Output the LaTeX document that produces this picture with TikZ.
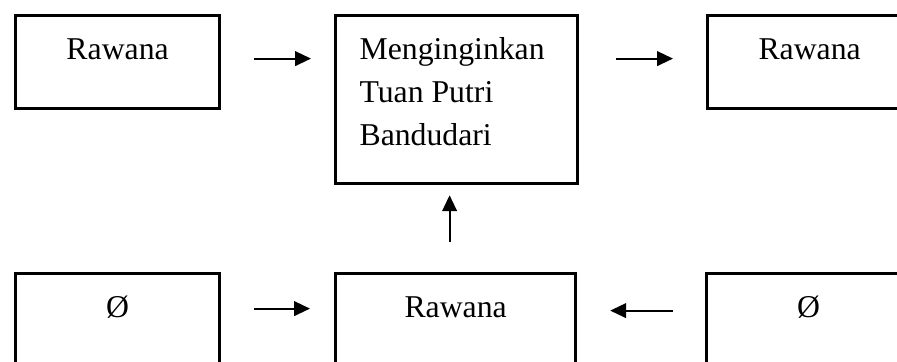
\documentclass[tikz,border=0pt]{standalone}
\usepackage{fontspec}
\setmainfont{Liberation Serif}
\usetikzlibrary{arrows.meta}

\tikzset{
  box/.style={draw, line width=2.4pt, inner sep=0pt, anchor=north west,
    text width=153pt, align=center, text height=32.6pt, text depth=37.1pt,
    font=\fontsize{23.8}{32.25}\selectfont},
  wantbox/.style={box, inner xsep=18pt, text width=145.5pt, align=flush left,
    text depth=93.4pt},
  arr/.style={line width=1.6pt, -{Triangle[length=12pt,width=11pt]}}
}

\begin{document}
\begin{tikzpicture}[x=0.75pt,y=0.75pt,yscale=-1,xscale=1]
\useasboundingbox (0,0) rectangle (897,361);
\clip (0,0) rectangle (897,361);

% upper row
\node[box] (top1) at (14,14) {Rawana};
\node[wantbox] (want) at (334,14) {Menginginkan\\Tuan Putri\\Bandudari};
\node[box] (top2) at (706,14) {Rawana};

% lower row
\node[box] (nil1) at (14,272) {Ø};
\node[box, text width=180pt] (bot) at (334,272) {Rawana};
\node[box] (nil2) at (705,272) {Ø};

% arrows
\draw[arr, shorten <=24.75pt, shorten >=17.25pt] ([yshift=-2.6pt]top1.east) -- ([yshift=-2.6pt]top1.east -| want.west);
\draw[arr, shorten <=27.75pt, shorten >=24.75pt] ([yshift=-2.6pt]top2.west -| want.east) -- ([yshift=-2.6pt]top2.west);
\draw[arr, shorten <=24.75pt, shorten >=18pt] ([yshift=-8.6pt]nil1.east) -- ([yshift=-8.6pt]nil1.east -| bot.west);
\draw[arr, shorten <=24pt, shorten >=24.75pt] ([yshift=-7.1pt]nil2.west) -- ([yshift=-7.1pt]nil2.west -| bot.east);
\draw[arr, shorten <=22.5pt, shorten >=7.5pt] ([xshift=-4.5pt]bot.north) -- ([xshift=-4.5pt]bot.north |- want.south);

\end{tikzpicture}
\end{document}
